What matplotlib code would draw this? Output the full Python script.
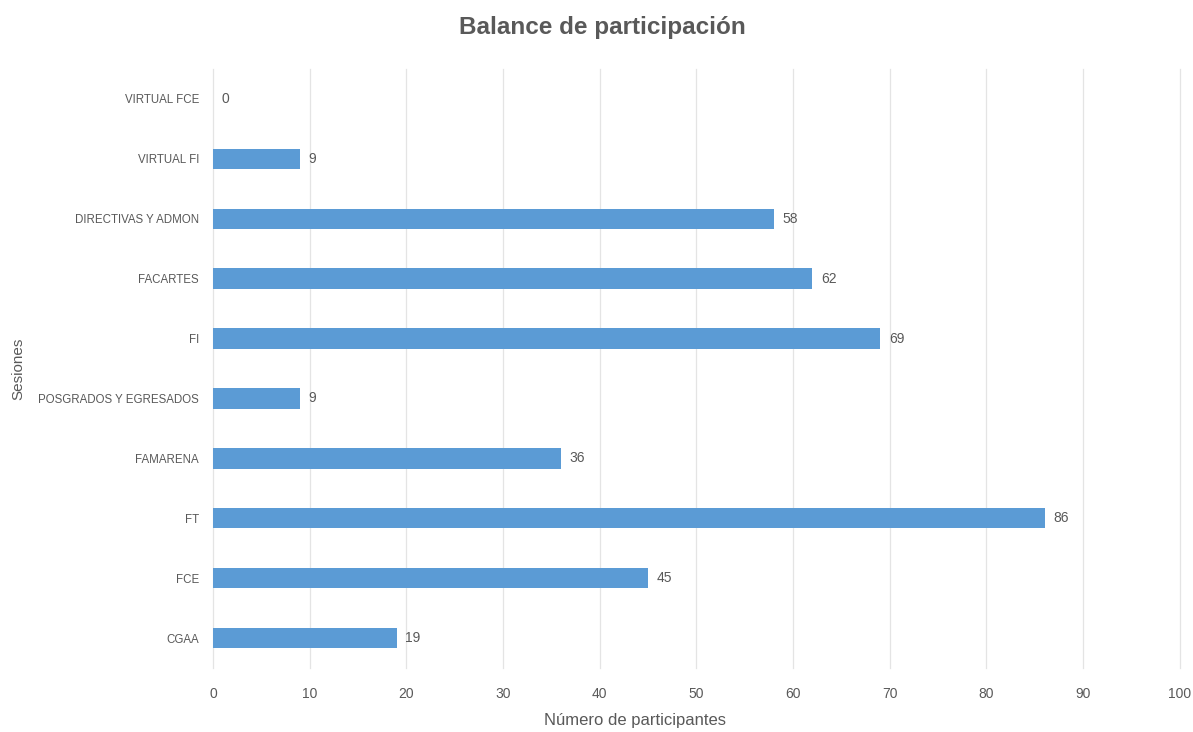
import matplotlib
matplotlib.use("Agg")
import matplotlib.pyplot as plt

plt.rcParams['font.family'] = ['Liberation Sans Narrow', 'Liberation Sans', 'DejaVu Sans']

sesiones = ['CGAA', 'FCE', 'FT', 'FAMARENA', 'POSGRADOS Y EGRESADOS', 'FI',
            'FACARTES', 'DIRECTIVAS Y ADMON', 'VIRTUAL FI', 'VIRTUAL FCE']
participantes = [19, 45, 86, 36, 9, 69, 62, 58, 9, 0]
xticks = [0, 10, 20, 30, 40, 50, 60, 70, 80, 90, 100]

gris = '#595959'
azul = '#5B9BD5'

fig = plt.figure(figsize=(11.93, 7.32), dpi=100)
ax = fig.add_axes([0.1785, 0.0874, 0.8105, 0.8183])

ypos = list(range(len(sesiones)))
ax.barh(ypos, participantes, height=0.34, color=azul, zorder=3)
for y, v in zip(ypos, participantes):
    ax.text(v + 0.9, y, str(v), va='center', ha='left', fontsize=10, color=gris)

ax.set_xlim(0, 100)
ax.set_ylim(-0.5, len(sesiones) - 0.5)
ax.set_xticks(xticks)
ax.set_yticks(ypos)
ax.set_yticklabels(sesiones)
ax.tick_params(axis='both', length=0, labelsize=10, colors=gris)
ax.tick_params(axis='y', labelsize=8.3, pad=10)
ax.tick_params(axis='x', pad=14)
ax.grid(axis='x', color='#e4e4e4', linewidth=0.9, zorder=0)
for gl in ax.get_xgridlines():
    gl.set_clip_on(False)
for s in ax.spines.values():
    s.set_visible(False)

ax.set_xlabel('Número de participantes', fontsize=12, color=gris)
ax.xaxis.set_label_coords(0.437, -0.075)
ax.set_ylabel('Sesiones', fontsize=11, color=gris)
ax.yaxis.set_label_coords(-0.194, 0.5)
fig.text(0.505, 0.962, 'Balance de participación', ha='center', va='center',
         fontsize=17.5, fontweight='bold', color=gris)

fig.savefig('out.png', dpi=100)
